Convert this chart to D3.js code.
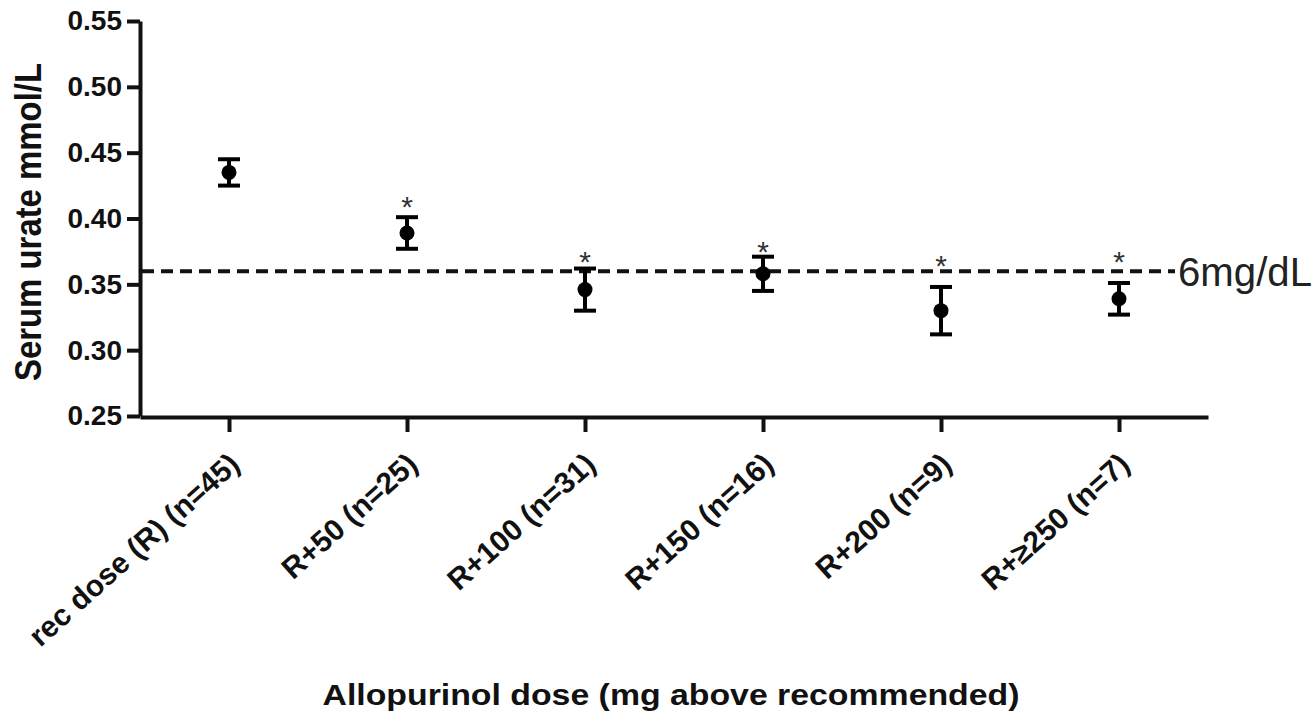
<!DOCTYPE html>
<html>
<head>
<meta charset="utf-8">
<script src="https://cdn.jsdelivr.net/npm/d3@7"></script>
<style>
	body { margin: 0; background: #fff; }
	svg { display: block; font-family: "Liberation Sans", Arial, sans-serif; }
</style>
</head>
<body>
<div id="chartDiv"></div>
<script>
// categories on the x axis
const doseGroups = ['rec dose (R) (n=45)', 'R+50 (n=25)', 'R+100 (n=31)', 'R+150 (n=16)', 'R+200 (n=9)', 'R+\u2265250 (n=7)'];
// mean serum urate and its error (mmol/L)
const urateMeans = [0.435, 0.389, 0.346, 0.358, 0.330, 0.339];
const urateErrors = [0.010, 0.012, 0.016, 0.013, 0.018, 0.012];
// where each significance star sits (mmol/L), null = none
const starLevels = [null, 0.414, 0.372, 0.380, 0.369, 0.372];
const yTicks = [0.25, 0.30, 0.35, 0.40, 0.45, 0.50, 0.55];
const targetLevel = 0.36;
const targetLabel = '6mg/dL';

const width = 1315,
	height = 715;

let svg = d3.select('#chartDiv').append('svg')
	.attr('width', width)
	.attr('height', height);

let xScale = d3.scalePoint()
	.domain(doseGroups)
	.range([140, 1208])
	.padding(0.5);

let yScale = d3.scaleLinear()
	.domain([0.25, 0.55])
	.range([416, 21]);

let rows = doseGroups.map((g, i) => ({
	group: g,
	mean: urateMeans[i],
	err: urateErrors[i],
	star: starLevels[i]
}));

// y axis
let yAxisG = svg.append('g')
	.attr('class', 'yAxis')
	.attr('transform', 'translate(140,0)')
	.call(d3.axisLeft(yScale).tickValues(yTicks).tickFormat(d3.format('.2f')).tickSize(13).tickSizeOuter(0).tickPadding(5));

yAxisG.select('.domain').attr('stroke', '#111').attr('stroke-width', 4);
yAxisG.selectAll('.tick line').attr('stroke', '#111').attr('stroke-width', 4);
yAxisG.selectAll('.tick text')
	.attr('fill', '#111')
	.style('font-size', '28px')
	.style('font-weight', 'bold');

// x axis
let xAxisG = svg.append('g')
	.attr('class', 'xAxis')
	.attr('transform', 'translate(0,417)')
	.call(d3.axisBottom(xScale).tickSize(15).tickSizeOuter(0));

xAxisG.select('.domain').attr('stroke', '#111').attr('stroke-width', 4);
xAxisG.selectAll('.tick line').attr('stroke', '#111').attr('stroke-width', 4);
xAxisG.selectAll('.tick text')
	.attr('fill', '#111')
	.attr('y', 0)
	.attr('dy', '0.35em')
	.attr('transform', 'translate(5,42) rotate(-42)')
	.attr('text-anchor', 'end')
	.style('font-size', '30px')
	.style('font-weight', 'bold');

// reference line at 6 mg/dL
svg.append('line')
	.attr('x1', 142)
	.attr('x2', 1175)
	.attr('y1', yScale(targetLevel))
	.attr('y2', yScale(targetLevel))
	.attr('stroke', '#111')
	.attr('stroke-width', 4)
	.attr('stroke-dasharray', '12,7');

svg.append('text')
	.attr('x', 1178)
	.attr('y', yScale(targetLevel))
	.attr('dy', '0.36em')
	.attr('fill', '#222')
	.attr('textLength', 134)
	.attr('lengthAdjust', 'spacingAndGlyphs')
	.style('font-size', '40px')
	.text(targetLabel);

// error bars + points
let pointG = svg.append('g').attr('class', 'points');

let groups = pointG.selectAll('g')
	.data(rows)
	.join('g')
	.attr('transform', d => `translate(${xScale(d.group)},0)`);

groups.append('line')
	.attr('y1', d => yScale(d.mean + d.err))
	.attr('y2', d => yScale(d.mean - d.err))
	.attr('stroke', '#000')
	.attr('stroke-width', 4);

groups.selectAll('.cap')
	.data(d => [d.mean + d.err, d.mean - d.err])
	.join('line')
	.attr('class', 'cap')
	.attr('x1', -11)
	.attr('x2', 11)
	.attr('y1', v => yScale(v))
	.attr('y2', v => yScale(v))
	.attr('stroke', '#000')
	.attr('stroke-width', 4);

groups.append('circle')
	.attr('cy', d => yScale(d.mean))
	.attr('r', 7.5)
	.attr('fill', '#000');

groups.filter(d => d.star != null)
	.append('text')
	.attr('y', d => yScale(d.star) + 17)
	.attr('text-anchor', 'middle')
	.attr('fill', '#333')
	.style('font-size', '30px')
	.text('*');

// axis titles
svg.append('text')
	.attr('x', 671)
	.attr('y', 705)
	.attr('text-anchor', 'middle')
	.attr('fill', '#111')
	.attr('textLength', 697)
	.attr('lengthAdjust', 'spacingAndGlyphs')
	.style('font-size', '29px')
	.style('font-weight', 'bold')
	.text('Allopurinol dose (mg above recommended)');

svg.append('text')
	.attr('transform', 'translate(41,222) rotate(-90)')
	.attr('text-anchor', 'middle')
	.attr('fill', '#111')
	.attr('textLength', 318)
	.attr('lengthAdjust', 'spacingAndGlyphs')
	.style('font-size', '36px')
	.style('font-weight', 'bold')
	.text('Serum urate mmol/L');
</script>
</body>
</html>
